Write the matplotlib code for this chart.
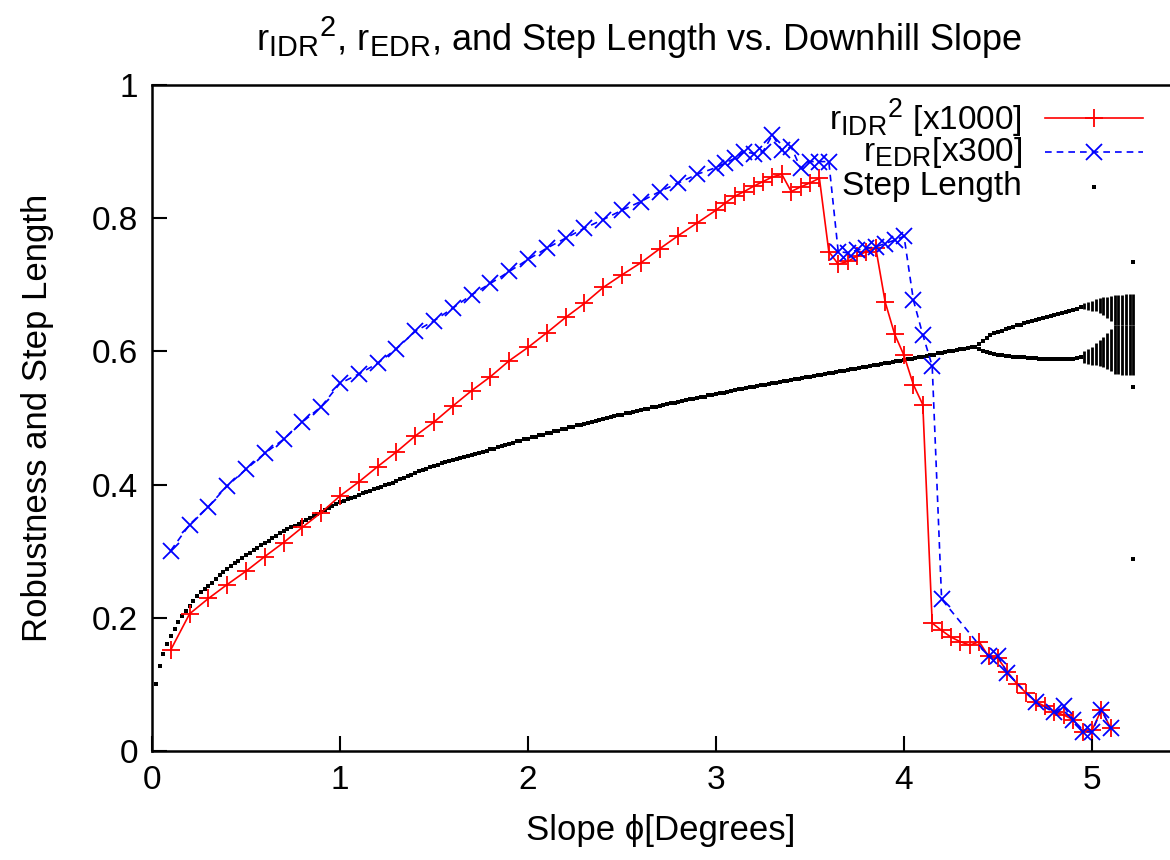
import matplotlib
matplotlib.use("Agg")
import matplotlib.pyplot as plt
import matplotlib._mathtext as mathtext_internals

plt.rcParams['font.family'] = ['Liberation Sans', 'DejaVu Sans']
plt.rcParams['mathtext.fontset'] = 'custom'
plt.rcParams['mathtext.rm'] = 'Liberation Sans'
plt.rcParams['mathtext.it'] = 'Liberation Sans:italic'
plt.rcParams['mathtext.bf'] = 'Liberation Sans:bold'
# gnuplot draws sub/superscripts at 0.8 of the base size
mathtext_internals.SHRINK_FACTOR = 0.8

FS = 24

# r_IDR^2 (x1000)
idr_x = [0.1, 0.2, 0.3, 0.4, 0.5, 0.6, 0.7, 0.8, 0.9, 1.0,
         1.1, 1.2, 1.3, 1.4, 1.5, 1.6, 1.7, 1.8, 1.9, 2.0,
         2.1, 2.2, 2.3, 2.4, 2.5, 2.6, 2.7, 2.8, 2.9, 3.0,
         3.05, 3.1, 3.15, 3.2, 3.25, 3.3, 3.35, 3.4, 3.45, 3.5,
         3.55, 3.6, 3.65, 3.7, 3.75, 3.8, 3.85, 3.9, 3.95, 4.0,
         4.05, 4.1, 4.15, 4.2, 4.25, 4.3, 4.35, 4.4, 4.45, 4.5,
         4.55, 4.6, 4.65, 4.7, 4.75, 4.8, 4.85, 4.9, 4.95, 5.0,
         5.05, 5.1]
idr_y = [0.152, 0.206, 0.229, 0.250, 0.270, 0.292, 0.313, 0.336, 0.358, 0.383,
         0.404, 0.427, 0.449, 0.473, 0.494, 0.518, 0.541, 0.562, 0.586, 0.606,
         0.628, 0.651, 0.672, 0.696, 0.715, 0.733, 0.754, 0.774, 0.793, 0.812,
         0.823, 0.833, 0.840, 0.848, 0.855, 0.862, 0.866, 0.840, 0.847, 0.853,
         0.860, 0.750, 0.731, 0.735, 0.743, 0.750, 0.755, 0.674, 0.626, 0.594,
         0.550, 0.520, 0.192, 0.181, 0.171, 0.164, 0.159, 0.164, 0.142, 0.139,
         0.119, 0.101, 0.087, 0.074, 0.067, 0.059, 0.054, 0.047, 0.029, 0.031,
         0.062, 0.034]

# r_EDR (x300)
edr_x = [0.1, 0.2, 0.3, 0.4, 0.5, 0.6, 0.7, 0.8, 0.9, 1.0,
         1.1, 1.2, 1.3, 1.4, 1.5, 1.6, 1.7, 1.8, 1.9, 2.0,
         2.1, 2.2, 2.3, 2.4, 2.5, 2.6, 2.7, 2.8, 2.9, 3.0,
         3.05, 3.1, 3.15, 3.2, 3.25, 3.3, 3.35, 3.4, 3.45, 3.5,
         3.55, 3.6, 3.65, 3.7, 3.75, 3.8, 3.85, 3.9, 3.95, 4.0,
         4.05, 4.1, 4.15, 4.2, 4.45, 4.5, 4.55, 4.7, 4.8, 4.85,
         4.9, 4.95, 5.0, 5.05, 5.1]
edr_y = [0.301, 0.340, 0.367, 0.398, 0.423, 0.447, 0.468, 0.494, 0.517, 0.552,
         0.566, 0.582, 0.604, 0.630, 0.646, 0.665, 0.685, 0.702, 0.720, 0.738,
         0.755, 0.770, 0.785, 0.798, 0.812, 0.825, 0.840, 0.853, 0.866, 0.876,
         0.883, 0.890, 0.900, 0.897, 0.900, 0.925, 0.902, 0.907, 0.875, 0.885,
         0.885, 0.885, 0.750, 0.748, 0.752, 0.755, 0.757, 0.762, 0.767, 0.773,
         0.677, 0.625, 0.578, 0.228, 0.142, 0.142, 0.117, 0.073, 0.058, 0.067,
         0.047, 0.029, 0.029, 0.062, 0.034]

# step length, single branch (slope 0.02 .. 4.38, every 0.02)
step_x0 = 0.02
step_dx = 0.02
step_main = [
    0.100, 0.127, 0.145, 0.160, 0.172, 0.183, 0.193, 0.202, 0.210, 0.217,
    0.225, 0.232, 0.238, 0.243, 0.248, 0.253, 0.259, 0.264, 0.269, 0.273,
    0.278, 0.282, 0.286, 0.290, 0.294, 0.298, 0.302, 0.305, 0.309, 0.313,
    0.316, 0.320, 0.323, 0.327, 0.330, 0.333, 0.336, 0.338, 0.341, 0.344,
    0.347, 0.350, 0.353, 0.356, 0.359, 0.362, 0.365, 0.368, 0.371, 0.374,
    0.376, 0.378, 0.380, 0.382, 0.384, 0.387, 0.389, 0.391, 0.393, 0.395,
    0.397, 0.399, 0.401, 0.403, 0.406, 0.408, 0.410, 0.413, 0.415, 0.418,
    0.420, 0.422, 0.424, 0.426, 0.428, 0.430, 0.432, 0.434, 0.436, 0.437,
    0.439, 0.440, 0.442, 0.443, 0.445, 0.446, 0.448, 0.449, 0.451, 0.453,
    0.454, 0.456, 0.458, 0.460, 0.461, 0.463, 0.465, 0.466, 0.468, 0.469,
    0.471, 0.472, 0.474, 0.475, 0.477, 0.478, 0.480, 0.481, 0.483, 0.484,
    0.486, 0.487, 0.489, 0.490, 0.491, 0.493, 0.494, 0.496, 0.497, 0.499,
    0.500, 0.501, 0.503, 0.504, 0.505, 0.507, 0.508, 0.509, 0.511, 0.512,
    0.513, 0.514, 0.516, 0.517, 0.518, 0.519, 0.521, 0.522, 0.523, 0.524,
    0.525, 0.527, 0.528, 0.529, 0.530, 0.531, 0.532, 0.534, 0.535, 0.536,
    0.537, 0.538, 0.539, 0.540, 0.542, 0.543, 0.544, 0.545, 0.546, 0.547,
    0.548, 0.549, 0.550, 0.551, 0.552, 0.553, 0.554, 0.555, 0.556, 0.557,
    0.558, 0.559, 0.560, 0.561, 0.562, 0.563, 0.564, 0.565, 0.566, 0.567,
    0.568, 0.569, 0.570, 0.571, 0.572, 0.573, 0.574, 0.575, 0.576, 0.577,
    0.578, 0.579, 0.580, 0.581, 0.582, 0.583, 0.584, 0.585, 0.586, 0.587,
    0.588, 0.589, 0.590, 0.591, 0.592, 0.593, 0.594, 0.595, 0.597, 0.598,
    0.599, 0.600, 0.601, 0.602, 0.603, 0.604, 0.605, 0.606, 0.607,
]

# period-2 branches (slope 4.40 .. 4.94, every 0.02)
split_x0 = 4.40
split_upper = [0.611, 0.616, 0.620, 0.624, 0.627, 0.629, 0.631, 0.633, 0.635, 0.637,
               0.639, 0.640, 0.642, 0.644, 0.645, 0.647, 0.648, 0.650, 0.652, 0.653,
               0.655, 0.656, 0.658, 0.659, 0.661, 0.662, 0.664, 0.666]
split_lower = [0.604, 0.601, 0.599, 0.597, 0.596, 0.595, 0.594, 0.593, 0.593, 0.592,
               0.592, 0.591, 0.591, 0.590, 0.590, 0.590, 0.589, 0.589, 0.589, 0.589,
               0.589, 0.589, 0.589, 0.589, 0.589, 0.589, 0.590, 0.591]

# chaotic region: columns with an upper and a lower band of points
chaos_x = [4.96, 4.98, 5.00, 5.02, 5.04, 5.06, 5.08, 5.10, 5.12, 5.14, 5.16, 5.18, 5.20, 5.22]
chaos_top_hi = [0.672, 0.674, 0.676, 0.678, 0.680, 0.681, 0.682, 0.683, 0.684, 0.685, 0.685, 0.686, 0.686, 0.686]
chaos_top_lo = [0.664, 0.662, 0.661, 0.660, 0.658, 0.655, 0.650, 0.645, 0.640, 0.640, 0.640, 0.640, 0.640, 0.640]
chaos_bot_hi = [0.600, 0.604, 0.607, 0.612, 0.617, 0.622, 0.628, 0.634, 0.640, 0.640, 0.640, 0.640, 0.640, 0.640]
chaos_bot_lo = [0.582, 0.581, 0.580, 0.579, 0.578, 0.576, 0.573, 0.570, 0.566, 0.566, 0.565, 0.565, 0.565, 0.565]

outlier_x = [5.22, 5.22, 5.22]
outlier_y = [0.734, 0.546, 0.288]

fig = plt.figure(figsize=(11.7, 8.6), dpi=100)
ax = fig.add_axes([152 / 1170, 1 - 751 / 860, 1 - 152 / 1170, (751 - 85) / 860])

# step length
main_x = [step_x0 + i * step_dx for i in range(len(step_main))]
split_x = [split_x0 + i * step_dx for i in range(len(split_upper))]
dot = dict(color='black', marker='s', markersize=2.4, linestyle='none', markeredgewidth=0)
ax.plot(main_x, step_main, **dot)
ax.plot(split_x, split_upper, **dot)
ax.plot(split_x, split_lower, **dot)
ax.vlines(chaos_x, chaos_top_lo, chaos_top_hi, color='black', linewidth=2.0)
ax.vlines(chaos_x, chaos_bot_lo, chaos_bot_hi, color='black', linewidth=2.0)
ax.plot(outlier_x, outlier_y, **dot)

ax.plot(idr_x, idr_y, color='#ff0000', linewidth=1.2, marker='+', markersize=13,
        markeredgewidth=1.3)
ax.plot(edr_x, edr_y, color='#0000ff', linewidth=1.2, linestyle=(0, (4, 3)), marker='x',
        markersize=11, markeredgewidth=1.3)

ax.set_xlim(0, (1170 - 152) / 188.0)
ax.set_ylim(0, 1)
ax.set_xticks([0, 1, 2, 3, 4, 5])
ax.set_xticklabels(['0', '1', '2', '3', '4', '5'])
ax.set_yticks([0, 0.2, 0.4, 0.6, 0.8, 1])
ax.set_yticklabels(['0', '0.2', '0.4', '0.6', '0.8', '1'])
ax.tick_params(direction='in', length=11, width=1.5, labelsize=FS, pad=10,
               top=False, right=False)
for side in ['left', 'bottom', 'top']:
    ax.spines[side].set_linewidth(1.8)
ax.spines['right'].set_visible(False)

ax.set_xlabel('Slope ϕ[Degrees]', fontsize=25, labelpad=13)
ax.set_ylabel('Robustness and Step Length', fontsize=25, labelpad=27)
fig.text(639 / 1170, 1 - 38 / 860,
         r'$\mathrm{r_{IDR}}^{2}$, $\mathrm{r_{EDR}}$, and Step Length vs. Downhill Slope',
         fontsize=26, ha='center', va='center')

# gnuplot style key: text right aligned, sample to the right
tx = (1022 - 152) / 1018
lx0, lx1, lm = (1045 - 152) / 1018, (1143 - 152) / 1018, (1094 - 152) / 1018
rows = [(751 - 118) / 666, (751 - 152) / 666, (751 - 187) / 666]
labels = [r'$\mathrm{r_{IDR}}^{2}$ [x1000]', r'$\mathrm{r_{EDR}}$[x300]', 'Step Length']
for yy, lab in zip(rows, labels):
    ax.text(tx, yy, lab, transform=ax.transAxes, fontsize=FS, ha='right', va='center')
tr = ax.transAxes
ax.plot([lx0, lx1], [rows[0]] * 2, color='#ff0000', linewidth=1.2, transform=tr, clip_on=False)
ax.plot([lm], [rows[0]], color='#ff0000', marker='+', markersize=13, markeredgewidth=1.3,
        transform=tr, clip_on=False)
ax.plot([lx0, lx1], [rows[1]] * 2, color='#0000ff', linewidth=1.2, linestyle=(0, (4, 3)),
        transform=tr, clip_on=False)
ax.plot([lm], [rows[1]], color='#0000ff', marker='x', markersize=11, markeredgewidth=1.3,
        transform=tr, clip_on=False)
ax.plot([lm], [rows[2]], color='black', marker='s', markersize=2.4, markeredgewidth=0,
        transform=tr, clip_on=False)

fig.savefig('out.png', dpi=100)
